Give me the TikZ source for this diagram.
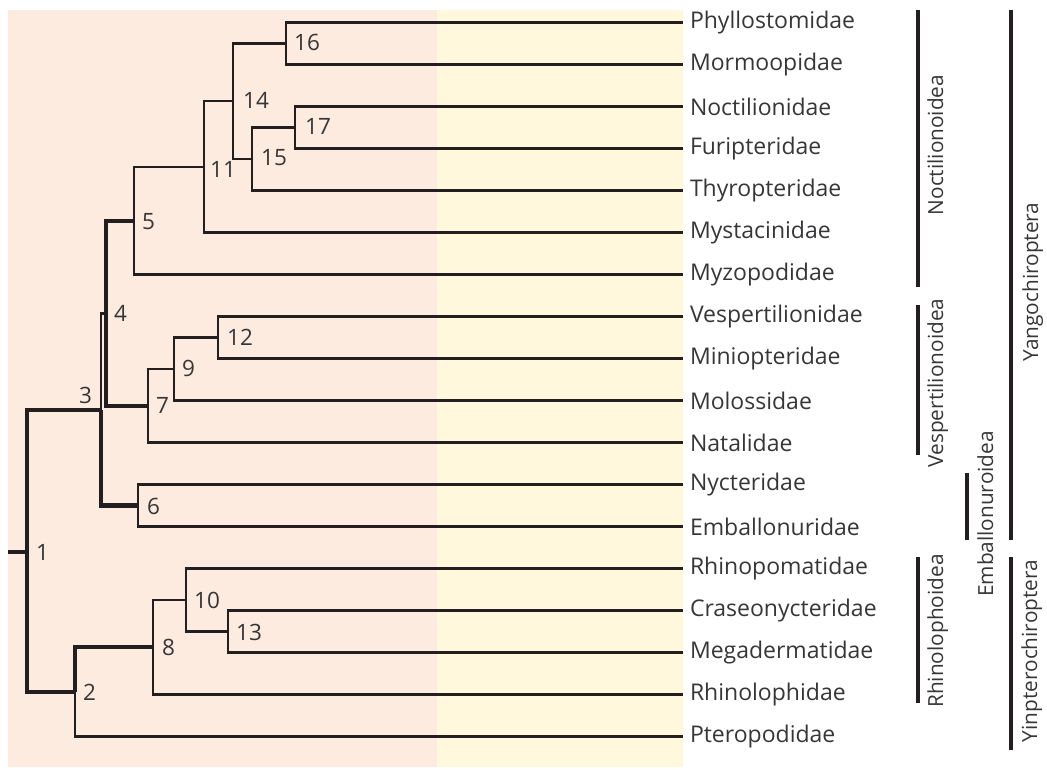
\documentclass[tikz,border=0pt]{standalone}
\usepackage{fontspec}
\setmainfont{Open Sans}[Ligatures=NoCommon]
\definecolor{peach}{RGB}{252,235,222}
\definecolor{pale}{RGB}{255,248,220}
\definecolor{ink}{RGB}{35,31,32}
\definecolor{txt}{RGB}{55,53,56}
\begin{document}
\begin{tikzpicture}[x=1pt,y=-1pt,
  thinline/.style={line width=2.4pt, draw=ink},
  thickline/.style={line width=4.6pt, draw=ink},
  leaf/.style={anchor=west, inner xsep=7pt, inner ysep=0pt, outer sep=0pt,
    font=\fontsize{23}{25}\selectfont, text=txt},
  num/.style={anchor=west, inner sep=0pt, font=\fontsize{22.5}{25}\selectfont, text=txt},
  bar/.style={line width=4.6pt, draw=ink},
  grp/.style={rotate=90, anchor=base, inner sep=0pt, font=\fontsize{20.8}{23}\selectfont, text=txt}]
\useasboundingbox (0,0) rectangle (1047,769);
\fill[peach] (8,10) rectangle (437,767);
\fill[pale] (437,10) rectangle (683,767);
% leaves
\foreach \n [count=\i from 0] in {Phyllostomidae,Mormoopidae,Noctilionidae,Furipteridae,Thyropteridae,Mystacinidae,Myzopodidae,Vespertilionidae,Miniopteridae,Molossidae,Natalidae,Nycteridae,Emballonuridae,Rhinopomatidae,Craseonycteridae,Megadermatidae,Rhinolophidae,Pteropodidae}
  \node[leaf] (L\i) at (683, 22.5+42*\i) {\n};
% internal nodes
\coordinate (root) at (8,552);
\coordinate (n1) at (27,552);
\coordinate (n2) at (75,692);
\coordinate (n3) at (101,410);
\coordinate (n4) at (106,313.5);
\coordinate (n5) at (134,221);
\coordinate (n6) at (138,505.5);
\coordinate (n7) at (148,406);
\coordinate (n8) at (153,647);
\coordinate (n9) at (174,369);
\coordinate (n10) at (186,600);
\coordinate (n11) at (204,167);
\coordinate (n12) at (218,337.5);
\coordinate (n13) at (228,631.5);
\coordinate (n14) at (233,101.25);
\coordinate (n15) at (252,159);
\coordinate (n16) at (286,43.5);
\coordinate (n17) at (295,127.5);
% thin edges
\draw[thinline] (n3) |- (n4);
\draw[thinline] (n5) |- (n11);
\draw[thinline] (n5) |- (L6.west);
\draw[thinline] (n11) |- (n14);
\draw[thinline] (n11) |- (L5.west);
\draw[thinline] (n14) |- (n16);
\draw[thinline] (n14) |- (n15);
\draw[thinline] (n16) |- (L0.west);
\draw[thinline] (n16) |- (L1.west);
\draw[thinline] (n15) |- (n17);
\draw[thinline] (n15) |- (L4.west);
\draw[thinline] (n17) |- (L2.west);
\draw[thinline] (n17) |- (L3.west);
\draw[thinline] (n7) |- (n9);
\draw[thinline] (n7) |- (L10.west);
\draw[thinline] (n9) |- (n12);
\draw[thinline] (n9) |- (L9.west);
\draw[thinline] (n12) |- (L7.west);
\draw[thinline] (n12) |- (L8.west);
\draw[thinline] (n6) |- (L11.west);
\draw[thinline] (n6) |- (L12.west);
\draw[thinline] (n2) |- (L17.west);
\draw[thinline] (n8) |- (n10);
\draw[thinline] (n8) |- (L16.west);
\draw[thinline] (n10) |- (L13.west);
\draw[thinline] (n10) |- (n13);
\draw[thinline] (n13) |- (L14.west);
\draw[thinline] (n13) |- (L15.west);
% thick edges
\draw[thickline] (root) -- (n1);
\draw[thickline] (n1) |- (n3);
\draw[thickline] (n1) |- (n2);
\draw[thickline] (n3) |- (n6);
\draw[thickline] (n4) |- (n5);
\draw[thickline] (n4) |- (n7);
\draw[thickline] (n2) |- (n8);
% node numbers
\node[num] (t1) at (36,552) {1};
\node[num] (t2) at (83,692) {2};
\node[num] (t3) at (79,395) {3};
\node[num] (t4) at (114,313) {4};
\node[num] (t5) at (142,221.5) {5};
\node[num] (t6) at (147,506) {6};
\node[num] (t7) at (156,405) {7};
\node[num] (t8) at (162,647) {8};
\node[num] (t9) at (182,368) {9};
\node[num] (t10) at (194,600) {10};
\node[num] (t11) at (210,169) {11};
\node[num] (t12) at (227,337) {12};
\node[num] (t13) at (236,632) {13};
\node[num] (t14) at (243,100.5) {14};
\node[num] (t15) at (261,158) {15};
\node[num] (t16) at (294,42.5) {16};
\node[num] (t17) at (305,126) {17};
% group bars
\coordinate (b1t) at (918,10);   \coordinate (b1b) at (918,287);
\coordinate (b2t) at (918,305);  \coordinate (b2b) at (918,455);
\coordinate (b3t) at (918,557);  \coordinate (b3b) at (918,703);
\coordinate (b4t) at (967,473);  \coordinate (b4b) at (967,540);
\coordinate (b5t) at (1011,10);  \coordinate (b5b) at (1011,540);
\coordinate (b6t) at (1011,557); \coordinate (b6b) at (1011,750);
\draw[bar] (b1t) -- (b1b);
\draw[bar] (b2t) -- (b2b);
\draw[bar] (b3t) -- (b3b);
\draw[bar] (b4t) -- (b4b);
\draw[bar] (b5t) -- (b5b);
\draw[bar] (b6t) -- (b6b);
\node[grp] (g1) at (943,145) {Noctilionoidea};
\node[grp] (g2) at (943,383) {Vespertilionoidea};
\node[grp] (g3) at (943,631) {Rhinolophoidea};
\node[grp] (g4) at (993,514) {Emballonuroidea};
\node[grp] (g5) at (1038,282) {Yangochiroptera};
\node[grp] (g6) at (1037,651) {Yinpterochiroptera};
\end{tikzpicture}
\end{document}
